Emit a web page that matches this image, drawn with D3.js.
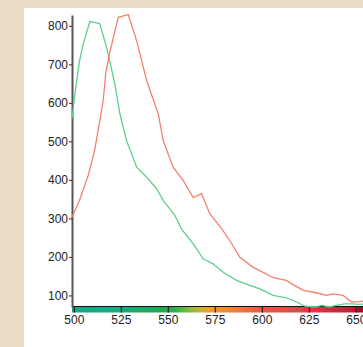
<!DOCTYPE html>
<html>
<head>
<meta charset="utf-8">
<script src="https://cdn.jsdelivr.net/npm/d3@7"></script>
<style>
  body { margin: 0; background: #ebdcc5; }
  svg { display: block; }
  .tick text { font-family: "Liberation Sans", Arial, sans-serif; font-size: 12px; fill: #222; }
</style>
</head>
<body>
<svg class="svg-spectrum"></svg>
<script>
// green curve
var greenNm = [499, 501, 503, 505, 508.5, 511, 513.8, 517.4, 521.8, 524.5, 528, 533.4, 538.7, 544, 547.5, 553.7, 557.3, 563.5, 568.8, 574, 579.4, 586.5, 593.6, 598.9, 606, 613, 618.5, 623, 628, 632, 636, 640, 644, 648, 652, 656]
var greenVal = [559, 640, 709, 753, 811, 809, 805, 744, 649, 571, 502, 433, 407, 377, 347, 308, 272, 234, 195, 182, 160, 139, 126, 117, 100, 94, 83, 72, 70, 74, 70, 75, 78, 78, 77, 78]
// red curve
var redNm = [499, 503, 507.6, 511, 513.8, 515.6, 517, 519.1, 523.6, 526.5, 528.9, 533.4, 538.7, 544.9, 547.5, 552.8, 558.1, 563.5, 567.9, 572.3, 578.5, 583, 588.3, 595.4, 600.7, 606, 613, 616.6, 622, 629, 634.4, 637.9, 643.2, 647.7, 651.2, 656]
var redVal = [303, 347, 411, 476, 554, 606, 679, 731, 822, 826, 829, 761, 658, 571, 502, 433, 399, 354, 364, 312, 274, 242, 199, 173, 160, 146, 139, 128, 113, 107, 100, 104, 100, 83, 84, 86]

var xTicks = [500, 525, 550, 575, 600, 625, 650]
var yTicks = [100, 200, 300, 400, 500, 600, 700, 800]

// spectrum bar colours under the x axis
var barStops = [
    [499, '#12a98c'], [525, '#15ad80'], [548, '#22a94c'], [556, '#3cb44a'],
    [562, '#8cbe3c'], [567, '#c8b030'], [572, '#f0a02a'], [588, '#f2783a'],
    [599, '#ee5a40'], [620, '#e84048'], [636, '#e02040'], [647, '#d01838'],
    [652, '#a01028'], [660, '#8a0c22']
]

var W = 363, H = 347
var svg = d3.select('.svg-spectrum')
    .attr('width', W)
    .attr('height', H)

// white panel
svg.append('rect')
    .attr('x', 24).attr('y', 8)
    .attr('width', W - 24).attr('height', H - 8)
    .attr('fill', '#ffffff')

var x_scale = d3.scaleLinear()
    .domain([499, 660])
    .range([72, 72 + 161 * 1.88])

var y_scale = d3.scaleLinear()
    .domain([70, 828])
    .range([307, 15])

// gradient bar
var grad = svg.append('defs').append('linearGradient')
    .attr('id', 'spec')
    .attr('gradientUnits', 'userSpaceOnUse')
    .attr('x1', x_scale(499)).attr('x2', x_scale(660))
    .attr('y1', 0).attr('y2', 0)
grad.selectAll('stop')
    .data(barStops)
    .enter()
    .append('stop')
    .attr('offset', d => (d[0] - 499) / (660 - 499))
    .attr('stop-color', d => d[1])

svg.append('rect')
    .attr('x', x_scale(499))
    .attr('y', 307)
    .attr('width', x_scale(660) - x_scale(499))
    .attr('height', 5.5)
    .attr('fill', 'url(#spec)')

// x axis: tick marks sit over the bar
var x_axis = d3.axisBottom()
    .scale(x_scale)
    .tickValues(xTicks)
    .tickSize(5.5)
    .tickPadding(3)
    .tickSizeOuter(0)
var gx = svg.append('g')
    .attr('transform', 'translate(0,307)')
    .call(x_axis)
gx.select('.domain').remove()
gx.selectAll('.tick line').attr('stroke', '#2a2a2a').attr('stroke-width', 1.4)

svg.append('line')
    .attr('x1', x_scale(499)).attr('x2', W)
    .attr('y1', 306.5).attr('y2', 306.5)
    .attr('stroke', '#111').attr('stroke-width', 1.2)

// y axis
var y_axis = d3.axisLeft()
    .scale(y_scale)
    .tickValues(yTicks)
    .tickSize(3)
    .tickPadding(1)
    .tickSizeOuter(0)
var gy = svg.append('g')
    .attr('transform', 'translate(72,0)')
    .call(y_axis)
gy.select('.domain').attr('stroke', '#555').attr('stroke-width', 2)
gy.selectAll('.tick line').attr('stroke', '#333')

var line = d3.line()
    .x(d => x_scale(d[0]))
    .y(d => y_scale(d[1]))

svg.append('path')
    .attr('d', line(greenNm.map((n, i) => [n, greenVal[i]])))
    .attr('stroke', '#5fcf8e')
    .attr('stroke-width', 1.3)
    .attr('fill', 'none')

svg.append('path')
    .attr('d', line(redNm.map((n, i) => [n, redVal[i]])))
    .attr('stroke', '#f5806e')
    .attr('stroke-width', 1.3)
    .attr('fill', 'none')
</script>
</body>
</html>
